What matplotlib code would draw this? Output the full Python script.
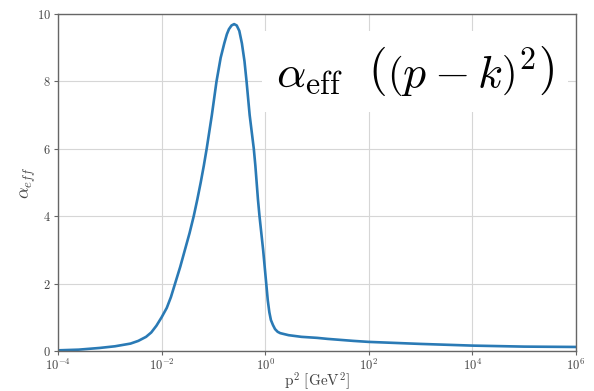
import numpy as np
import matplotlib
matplotlib.use('Agg')
import matplotlib.pyplot as plt

# effective coupling vs. momentum squared (log10 of p^2)
log_p2 = [-4.0, -3.6, -3.2, -2.9, -2.6, -2.45, -2.3, -2.2, -2.1, -2.0,
          -1.9, -1.82, -1.74, -1.64, -1.55, -1.46, -1.38, -1.31, -1.245,
          -1.185, -1.13, -1.08, -1.03, -0.985, -0.94, -0.86, -0.79, -0.74,
          -0.7, -0.65, -0.6, -0.55, -0.5, -0.45, -0.4, -0.36, -0.33,
          -0.3, -0.26, -0.22, -0.19, -0.165, -0.14, -0.11, -0.075, -0.04,
          -0.01, 0.02, 0.05, 0.08, 0.11, 0.15, 0.19, 0.24, 0.29, 0.37,
          0.45, 0.7, 1.0, 1.2, 1.7, 2.0, 3.0, 4.0, 5.0, 6.0]
alpha = [0.02, 0.04, 0.09, 0.14, 0.22, 0.3, 0.42, 0.55, 0.75, 1.0,
         1.28, 1.6, 2.0, 2.5, 3.0, 3.5, 4.0, 4.5, 5.0,
         5.5, 6.0, 6.5, 7.0, 7.5, 8.0, 8.7, 9.13, 9.4,
         9.55, 9.66, 9.7, 9.66, 9.5, 9.13, 8.6, 8.0, 7.5,
         7.0, 6.5, 6.0, 5.5, 5.0, 4.5, 4.0, 3.5, 3.0,
         2.5, 2.0, 1.5, 1.15, 0.92, 0.77, 0.65, 0.57, 0.53, 0.5,
         0.47, 0.42, 0.39, 0.36, 0.30, 0.27, 0.21, 0.16, 0.13, 0.12]

p2 = 10.0 ** np.array(log_p2)

plt.rcParams['font.family'] = 'serif'
plt.rcParams['font.serif'] = ['cmr10']
plt.rcParams['mathtext.fontset'] = 'cm'
plt.rcParams['axes.formatter.use_mathtext'] = True

fig = plt.figure(figsize=(5.94, 3.91), dpi=100)
ax = fig.add_axes([58/594, 40/391, 518/594, 337/391])

ax.plot(p2, alpha, color='#2a7ab5', lw=1.9, solid_capstyle='round',
        solid_joinstyle='round')

ax.set_xscale('log')
ax.set_xlim(1e-4, 1e6)
ax.set_ylim(0, 10)
ax.set_xticks([1e-4, 1e-2, 1e0, 1e2, 1e4, 1e6])
ax.set_yticks([0, 2, 4, 6, 8, 10])
ax.minorticks_off()
ax.grid(True, color='#d6d6d6', lw=0.8)

for s in ax.spines.values():
    s.set_color('#666666')
    s.set_linewidth(1.0)
ax.tick_params(labelsize=9, length=3, width=0.8, color='#666666',
               labelcolor='#444444', pad=2)

ax.set_xlabel(r'$\mathrm{p}^2\ [\mathrm{GeV}^2]$', fontsize=11,
              color='#444444', labelpad=-2)
ax.set_ylabel(r'$\alpha_{eff}$', fontsize=13, color='#444444', labelpad=-1)

# formula box in the upper right
ax.text(0.689, 0.83,
        r'$\alpha_{\mathrm{eff}}\ \ \left(\left(p-k\right)^2\right)$',
        transform=ax.transAxes, fontsize=33, ha='center', va='center',
        bbox=dict(boxstyle='square,pad=0.3', fc='white', ec='none'))

fig.savefig('out.png', dpi=100)
